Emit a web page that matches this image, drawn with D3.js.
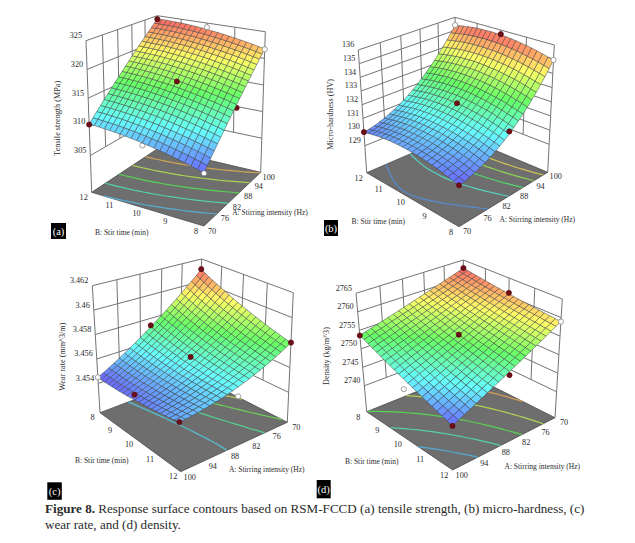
<!DOCTYPE html>
<html><head><meta charset="utf-8">
<script src="https://cdnjs.cloudflare.com/ajax/libs/d3/7.8.5/d3.min.js"></script>
<style>html,body{margin:0;padding:0;background:#fff}svg{display:block}text{font-family:"Liberation Serif",serif;fill:#2a2a2a}</style>
</head><body><svg id="fig" width="635" height="543"></svg>
<script>
const stirIntensity=[70,76,82,88,94,100];
const stirTime=[8,9,10,11,12];
// Response at each mesh node: one row per stir time (8 to 12 min), one column per intensity (70 to 100 Hz).
const tensileGrid=[
[307.38,308.15,308.92,309.69,310.45,311.20,311.95,312.69,313.42,314.15,314.88,315.59,316.30,317.01,317.71,318.40,319.09,319.77,320.44,321.11,321.78],
[307.65,308.43,309.20,309.96,310.72,311.47,312.22,312.96,313.69,314.42,315.14,315.86,316.57,317.27,317.97,318.66,319.34,320.02,320.70,321.37,322.03],
[307.94,308.71,309.48,310.24,311.00,311.75,312.49,313.23,313.96,314.69,315.41,316.13,316.83,317.54,318.23,318.92,319.61,320.29,320.96,321.63,322.29],
[308.20,308.97,309.74,310.50,311.25,312.00,312.75,313.48,314.22,314.94,315.66,316.37,317.08,317.78,318.48,319.17,319.85,320.53,321.20,321.86,322.52],
[308.44,309.21,309.98,310.74,311.49,312.24,312.98,313.72,314.45,315.17,315.89,316.60,317.31,318.01,318.70,319.39,320.07,320.75,321.42,322.08,322.74],
[308.67,309.44,310.21,310.97,311.72,312.47,313.21,313.94,314.67,315.39,316.11,316.82,317.53,318.22,318.92,319.60,320.28,320.96,321.63,322.29,322.95],
[308.90,309.66,310.43,311.19,311.94,312.68,313.42,314.16,314.88,315.60,316.32,317.03,317.73,318.43,319.12,319.81,320.49,321.16,321.83,322.49,323.15],
[309.10,309.87,310.63,311.38,312.13,312.88,313.62,314.35,315.08,315.80,316.51,317.22,317.92,318.62,319.31,319.99,320.67,321.34,322.01,322.67,323.32],
[309.29,310.06,310.82,311.57,312.32,313.06,313.80,314.53,315.26,315.98,316.69,317.40,318.10,318.79,319.48,320.17,320.84,321.51,322.18,322.84,323.49],
[309.46,310.23,310.99,311.74,312.49,313.23,313.97,314.70,315.42,316.14,316.85,317.56,318.26,318.95,319.64,320.32,320.99,321.67,322.33,322.99,323.64],
[309.63,310.39,311.15,311.90,312.65,313.39,314.12,314.85,315.57,316.29,317.00,317.71,318.40,319.10,319.78,320.46,321.14,321.81,322.47,323.13,323.78],
[309.78,310.54,311.30,312.05,312.79,313.53,314.27,315.00,315.72,316.43,317.14,317.84,318.54,319.23,319.92,320.60,321.27,321.94,322.60,323.25,323.90],
[309.91,310.67,311.43,312.18,312.92,313.66,314.39,315.12,315.84,316.55,317.26,317.96,318.66,319.35,320.03,320.71,321.38,322.05,322.71,323.36,324.01],
[310.02,310.78,311.54,312.29,313.03,313.77,314.50,315.22,315.94,316.65,317.36,318.06,318.76,319.44,320.13,320.80,321.47,322.14,322.80,323.45,324.10],
[310.14,310.89,311.65,312.40,313.14,313.87,314.60,315.33,316.04,316.75,317.46,318.16,318.85,319.54,320.22,320.90,321.57,322.23,322.89,323.54,324.19],
[310.23,310.99,311.74,312.48,313.22,313.96,314.69,315.41,316.13,316.84,317.54,318.24,318.93,319.62,320.30,320.97,321.64,322.30,322.96,323.61,324.25],
[310.30,311.06,311.81,312.55,313.29,314.02,314.75,315.47,316.19,316.90,317.60,318.30,318.99,319.67,320.35,321.03,321.69,322.35,323.01,323.66,324.30],
[310.36,311.12,311.87,312.61,313.35,314.08,314.81,315.53,316.24,316.95,317.65,318.35,319.04,319.72,320.40,321.07,321.73,322.39,323.05,323.70,324.34],
[310.42,311.17,311.92,312.66,313.40,314.13,314.85,315.57,316.28,316.99,317.69,318.38,319.07,319.75,320.43,321.10,321.77,322.43,323.08,323.73,324.37],
[310.46,311.21,311.96,312.70,313.43,314.16,314.89,315.60,316.32,317.02,317.72,318.41,319.10,319.78,320.46,321.13,321.79,322.45,323.10,323.74,324.38],
[310.48,311.23,311.97,312.71,313.45,314.17,314.90,315.61,316.32,317.03,317.73,318.42,319.10,319.79,320.46,321.13,321.79,322.44,323.09,323.73,324.38]];
const hardnessGrid=[
[129.73,129.80,129.89,130.00,130.13,130.28,130.45,130.64,130.85,131.08,131.33,131.60,131.89,132.20,132.53,132.88,133.25,133.64,134.05,134.48,134.93],
[129.83,129.90,129.99,130.10,130.23,130.39,130.56,130.75,130.96,131.19,131.44,131.71,132.00,132.31,132.64,132.99,133.36,133.75,134.16,134.59,135.04],
[129.93,130.00,130.09,130.20,130.33,130.49,130.66,130.85,131.06,131.29,131.54,131.81,132.10,132.41,132.74,133.09,133.47,133.86,134.27,134.70,135.15],
[130.02,130.09,130.18,130.29,130.42,130.58,130.75,130.94,131.15,131.38,131.63,131.90,132.20,132.51,132.84,133.19,133.56,133.95,134.36,134.80,135.25],
[130.10,130.17,130.26,130.37,130.50,130.66,130.83,131.02,131.23,131.46,131.72,131.99,132.28,132.59,132.92,133.28,133.65,134.04,134.45,134.88,135.34],
[130.16,130.24,130.33,130.44,130.57,130.73,130.90,131.09,131.30,131.54,131.79,132.06,132.35,132.66,133.00,133.35,133.72,134.12,134.53,134.96,135.41],
[130.22,130.29,130.39,130.50,130.63,130.79,130.96,131.15,131.36,131.60,131.85,132.12,132.42,132.73,133.06,133.41,133.79,134.18,134.59,135.03,135.48],
[130.27,130.34,130.43,130.55,130.68,130.84,131.01,131.20,131.42,131.65,131.90,132.18,132.47,132.78,133.12,133.47,133.84,134.24,134.65,135.09,135.54],
[130.31,130.38,130.47,130.59,130.72,130.88,131.05,131.24,131.46,131.69,131.95,132.22,132.51,132.83,133.16,133.52,133.89,134.28,134.70,135.13,135.59],
[130.33,130.41,130.50,130.62,130.75,130.91,131.08,131.27,131.49,131.72,131.98,132.25,132.55,132.86,133.20,133.55,133.92,134.32,134.73,135.17,135.62],
[130.35,130.43,130.52,130.64,130.77,130.93,131.10,131.30,131.51,131.75,132.00,132.28,132.57,132.89,133.22,133.58,133.95,134.35,134.76,135.20,135.65],
[130.36,130.43,130.53,130.64,130.78,130.94,131.11,131.31,131.52,131.76,132.01,132.29,132.58,132.90,133.23,133.59,133.97,134.36,134.78,135.21,135.67],
[130.36,130.43,130.53,130.64,130.78,130.94,131.11,131.31,131.52,131.76,132.02,132.29,132.59,132.90,133.24,133.60,133.97,134.37,134.78,135.22,135.68],
[130.34,130.42,130.52,130.63,130.77,130.93,131.10,131.30,131.51,131.75,132.01,132.29,132.58,132.90,133.23,133.59,133.97,134.36,134.78,135.22,135.67],
[130.32,130.40,130.49,130.61,130.75,130.91,131.08,131.28,131.50,131.73,131.99,132.27,132.56,132.88,133.22,133.58,133.95,134.35,134.77,135.20,135.66],
[130.29,130.37,130.46,130.58,130.72,130.88,131.05,131.25,131.47,131.71,131.96,132.24,132.54,132.86,133.19,133.55,133.93,134.33,134.74,135.18,135.64],
[130.25,130.32,130.42,130.54,130.68,130.84,131.01,131.21,131.43,131.67,131.93,132.20,132.50,132.82,133.16,133.52,133.89,134.29,134.71,135.15,135.61],
[130.19,130.27,130.37,130.49,130.63,130.79,130.96,131.16,131.38,131.62,131.88,132.16,132.45,132.77,133.11,133.47,133.85,134.25,134.67,135.10,135.56],
[130.13,130.21,130.31,130.43,130.57,130.73,130.90,131.10,131.32,131.56,131.82,132.10,132.40,132.72,133.06,133.42,133.79,134.19,134.61,135.05,135.51],
[130.06,130.14,130.24,130.36,130.50,130.66,130.83,131.03,131.25,131.49,131.75,132.03,132.33,132.65,132.99,133.35,133.73,134.13,134.55,134.99,135.45],
[129.98,130.06,130.16,130.28,130.42,130.58,130.76,130.96,131.18,131.42,131.68,131.96,132.26,132.58,132.92,133.28,133.66,134.06,134.48,134.92,135.38]];
const wearGrid=[
[3.46108,3.46065,3.46024,3.45983,3.45944,3.45905,3.45868,3.45831,3.45796,3.45761,3.45728,3.45695,3.45664,3.45633,3.45604,3.45575,3.45548,3.45521,3.45496,3.45471,3.45448],
[3.46088,3.46047,3.46006,3.45967,3.45928,3.45891,3.45854,3.45819,3.45784,3.45750,3.45718,3.45686,3.45656,3.45626,3.45598,3.45570,3.45544,3.45518,3.45494,3.45470,3.45448],
[3.46069,3.46029,3.45989,3.45951,3.45913,3.45877,3.45841,3.45806,3.45773,3.45740,3.45709,3.45678,3.45649,3.45620,3.45593,3.45566,3.45541,3.45516,3.45492,3.45470,3.45448],
[3.46051,3.46011,3.45973,3.45935,3.45899,3.45863,3.45829,3.45795,3.45762,3.45731,3.45700,3.45671,3.45642,3.45615,3.45588,3.45562,3.45538,3.45514,3.45492,3.45470,3.45450],
[3.46033,3.45994,3.45957,3.45920,3.45884,3.45850,3.45816,3.45784,3.45752,3.45721,3.45692,3.45663,3.45636,3.45609,3.45583,3.45559,3.45535,3.45513,3.45491,3.45470,3.45451],
[3.46015,3.45977,3.45941,3.45905,3.45871,3.45837,3.45804,3.45773,3.45742,3.45712,3.45684,3.45656,3.45630,3.45604,3.45579,3.45556,3.45533,3.45511,3.45491,3.45471,3.45453],
[3.45998,3.45961,3.45925,3.45891,3.45857,3.45824,3.45793,3.45762,3.45733,3.45704,3.45676,3.45650,3.45624,3.45599,3.45576,3.45553,3.45531,3.45511,3.45491,3.45472,3.45455],
[3.45981,3.45945,3.45910,3.45877,3.45844,3.45812,3.45782,3.45752,3.45723,3.45696,3.45669,3.45643,3.45619,3.45595,3.45572,3.45551,3.45530,3.45510,3.45492,3.45474,3.45457],
[3.45964,3.45930,3.45896,3.45863,3.45832,3.45801,3.45771,3.45742,3.45715,3.45688,3.45662,3.45638,3.45614,3.45591,3.45570,3.45549,3.45529,3.45510,3.45493,3.45476,3.45460],
[3.45948,3.45915,3.45882,3.45850,3.45819,3.45790,3.45761,3.45733,3.45706,3.45681,3.45656,3.45632,3.45609,3.45588,3.45567,3.45547,3.45529,3.45511,3.45494,3.45478,3.45464],
[3.45933,3.45900,3.45868,3.45837,3.45808,3.45779,3.45751,3.45724,3.45699,3.45674,3.45650,3.45627,3.45606,3.45585,3.45565,3.45546,3.45529,3.45512,3.45496,3.45481,3.45468],
[3.45917,3.45885,3.45855,3.45825,3.45796,3.45768,3.45742,3.45716,3.45691,3.45667,3.45645,3.45623,3.45602,3.45582,3.45563,3.45546,3.45529,3.45513,3.45498,3.45485,3.45472],
[3.45902,3.45872,3.45842,3.45813,3.45785,3.45758,3.45733,3.45708,3.45684,3.45661,3.45639,3.45619,3.45599,3.45580,3.45562,3.45545,3.45530,3.45515,3.45501,3.45488,3.45476],
[3.45888,3.45858,3.45829,3.45801,3.45775,3.45749,3.45724,3.45700,3.45677,3.45655,3.45635,3.45615,3.45596,3.45578,3.45561,3.45545,3.45531,3.45517,3.45504,3.45492,3.45481],
[3.45874,3.45845,3.45817,3.45790,3.45764,3.45739,3.45716,3.45693,3.45671,3.45650,3.45630,3.45611,3.45594,3.45577,3.45561,3.45546,3.45532,3.45519,3.45507,3.45497,3.45487],
[3.45860,3.45832,3.45805,3.45779,3.45755,3.45731,3.45708,3.45686,3.45665,3.45645,3.45626,3.45608,3.45592,3.45576,3.45561,3.45547,3.45534,3.45522,3.45511,3.45501,3.45493],
[3.45847,3.45820,3.45794,3.45769,3.45745,3.45722,3.45700,3.45679,3.45660,3.45641,3.45623,3.45606,3.45590,3.45575,3.45561,3.45548,3.45536,3.45525,3.45516,3.45507,3.45499],
[3.45834,3.45808,3.45783,3.45759,3.45736,3.45714,3.45693,3.45673,3.45654,3.45637,3.45620,3.45604,3.45589,3.45575,3.45562,3.45550,3.45539,3.45529,3.45520,3.45512,3.45505],
[3.45821,3.45796,3.45772,3.45749,3.45728,3.45707,3.45687,3.45668,3.45650,3.45633,3.45617,3.45602,3.45588,3.45575,3.45563,3.45552,3.45542,3.45533,3.45525,3.45518,3.45512],
[3.45809,3.45785,3.45762,3.45740,3.45719,3.45699,3.45680,3.45662,3.45645,3.45630,3.45615,3.45601,3.45588,3.45576,3.45565,3.45555,3.45546,3.45538,3.45531,3.45525,3.45520],
[3.45798,3.45775,3.45753,3.45732,3.45712,3.45693,3.45675,3.45658,3.45642,3.45627,3.45613,3.45600,3.45588,3.45577,3.45567,3.45558,3.45550,3.45543,3.45537,3.45532,3.45528]];
const densityGrid=[
[2762.73,2762.25,2761.78,2761.31,2760.84,2760.38,2759.91,2759.45,2758.99,2758.53,2758.08,2757.62,2757.17,2756.72,2756.27,2755.83,2755.38,2754.94,2754.50,2754.06,2753.63],
[2762.50,2762.01,2761.53,2761.04,2760.56,2760.08,2759.60,2759.13,2758.65,2758.18,2757.71,2757.24,2756.78,2756.31,2755.85,2755.39,2754.94,2754.48,2754.03,2753.58,2753.13],
[2762.27,2761.77,2761.27,2760.78,2760.28,2759.79,2759.30,2758.81,2758.32,2757.83,2757.35,2756.87,2756.39,2755.91,2755.44,2754.96,2754.49,2754.02,2753.56,2753.09,2752.63],
[2762.05,2761.54,2761.02,2760.51,2760.00,2759.50,2758.99,2758.49,2757.99,2757.49,2756.99,2756.50,2756.00,2755.51,2755.02,2754.53,2754.05,2753.56,2753.08,2752.60,2752.13],
[2761.84,2761.31,2760.78,2760.26,2759.73,2759.21,2758.69,2758.18,2757.66,2757.15,2756.64,2756.13,2755.62,2755.12,2754.62,2754.12,2753.62,2753.12,2752.63,2752.13,2751.64],
[2761.63,2761.08,2760.54,2760.00,2759.47,2758.93,2758.40,2757.87,2757.34,2756.81,2756.29,2755.77,2755.25,2754.73,2754.21,2753.70,2753.19,2752.68,2752.17,2751.66,2751.16],
[2761.42,2760.86,2760.31,2759.76,2759.21,2758.66,2758.11,2757.57,2757.02,2756.48,2755.94,2755.41,2754.87,2754.34,2753.81,2753.28,2752.76,2752.23,2751.71,2751.19,2750.67],
[2761.21,2760.64,2760.07,2759.51,2758.94,2758.38,2757.82,2757.26,2756.71,2756.15,2755.60,2755.05,2754.50,2753.95,2753.41,2752.87,2752.33,2751.79,2751.25,2750.72,2750.19],
[2761.01,2760.43,2759.85,2759.27,2758.69,2758.11,2757.54,2756.97,2756.40,2755.83,2755.26,2754.70,2754.14,2753.58,2753.02,2752.46,2751.91,2751.36,2750.81,2750.26,2749.71],
[2760.82,2760.22,2759.62,2759.03,2758.44,2757.85,2757.26,2756.68,2756.09,2755.51,2754.93,2754.35,2753.78,2753.20,2752.63,2752.06,2751.49,2750.93,2750.36,2749.80,2749.24],
[2760.63,2760.01,2759.40,2758.80,2758.19,2757.59,2756.99,2756.39,2755.79,2755.20,2754.60,2754.01,2753.42,2752.83,2752.25,2751.66,2751.08,2750.50,2749.92,2749.35,2748.78],
[2760.44,2759.81,2759.19,2758.57,2757.95,2757.33,2756.72,2756.10,2755.49,2754.88,2754.27,2753.67,2753.06,2752.46,2751.86,2751.27,2750.67,2750.08,2749.49,2748.90,2748.31],
[2760.25,2759.61,2758.98,2758.34,2757.71,2757.08,2756.45,2755.82,2755.20,2754.57,2753.95,2753.33,2752.72,2752.10,2751.49,2750.88,2750.27,2749.66,2749.06,2748.45,2747.85],
[2760.07,2759.42,2758.77,2758.12,2757.47,2756.83,2756.19,2755.55,2754.91,2754.27,2753.64,2753.00,2752.37,2751.74,2751.12,2750.49,2749.87,2749.25,2748.63,2748.01,2747.40],
[2759.90,2759.23,2758.57,2757.90,2757.24,2756.58,2755.93,2755.27,2754.62,2753.97,2753.32,2752.67,2752.03,2751.39,2750.75,2750.11,2749.47,2748.84,2748.21,2747.58,2746.95],
[2759.73,2759.05,2758.37,2757.69,2757.02,2756.35,2755.68,2755.01,2754.34,2753.68,2753.01,2752.35,2751.70,2751.04,2750.39,2749.73,2749.08,2748.44,2747.79,2747.15,2746.50],
[2759.56,2758.86,2758.17,2757.48,2756.79,2756.11,2755.42,2754.74,2754.06,2753.38,2752.71,2752.03,2751.36,2750.69,2750.02,2749.36,2748.69,2748.03,2747.37,2746.71,2746.06],
[2759.39,2758.69,2757.98,2757.28,2756.58,2755.88,2755.18,2754.49,2753.79,2753.10,2752.41,2751.72,2751.04,2750.35,2749.67,2748.99,2748.31,2747.64,2746.96,2746.29,2745.62],
[2759.23,2758.51,2757.79,2757.08,2756.36,2755.65,2754.94,2754.23,2753.52,2752.81,2752.11,2751.41,2750.71,2750.01,2749.32,2748.62,2747.93,2747.24,2746.56,2745.87,2745.19],
[2759.08,2758.34,2757.61,2756.88,2756.15,2755.42,2754.70,2753.97,2753.25,2752.53,2751.81,2751.10,2750.38,2749.67,2748.96,2748.26,2747.55,2746.85,2746.14,2745.44,2744.75],
[2758.93,2758.18,2757.43,2756.68,2755.94,2755.20,2754.46,2753.72,2752.99,2752.26,2751.53,2750.80,2750.07,2749.35,2748.62,2747.90,2747.18,2746.47,2745.75,2745.04,2744.33]];
const tensileTicks=[305,310,315,320,325], hardnessTicks=[129,130,131,132,133,134,135,136], wearTicks=[3.454,3.456,3.458,3.46,3.462], densityTicks=[2740,2745,2750,2755,2760,2765];
const tensileLevels=[310.4,313.2,316,318.8,321.6], hardnessLevels=[130.4,131.4,132.4,133.4,134.4], wearLevels=[3.4559,3.457,3.4581,3.4592,3.4603], densityLevels=[2747.5,2750.6,2753.7,2757,2760];
// design points: intensity, time, response, filled
const tensilePoints=[[100,12,324.3,1],[100,8,321.7,0],[85,10,316.8,1],[70,12,310.4,1],[70,8,307.3,0],[85,8,314.3,1],[70,10,309.2,0],[100,10,324.2,0]];
const hardnessPoints=[[100,12,135.4,0],[100,10,135.7,1],[100,8,134.95,0],[85,10,132,1],[70,12,130,1],[70,8,129.75,1],[85,8,131.5,1]];
const wearPoints=[[100,8,3.4545,0],[70,8,3.4611,1],[70,12,3.458,1],[85,10,3.4565,1],[100,12,3.4553,1],[85,8,3.4574,1],[100,10,3.4551,1],[85,12,3.4554,0]];
const densityPoints=[[70,8,2762.7,1],[70,10,2760.9,1],[70,12,2758.9,0],[85,10,2754.6,1],[100,8,2753.6,1],[100,12,2744.3,1],[85,12,2750.6,1],[100,10,2746,0]];

const panels=[
{grid:tensileGrid,ticks:tensileTicks,levels:tensileLevels,points:tensilePoints,zDomain:[298.6,325],tag:"(a)",yLabel:"Tensile strength (MPa)",
 p00:[204,226],p10:[260.7,172.3],p11:[158.3,148.3],p01:[91.7,192.3],t00:[204,66],t10:[265.3,31.7],t11:[157.3,15.7],t01:[86,40.7],
 left:"p01",back:"p11",right:"p10",front:"p00",
 yAt:[57.3,118.3],bAt:[121.7,231.7],aAt:[270,212],box:[51,223,15,16],bOff:[-8,5],aOff:[8,5]},
{grid:hardnessGrid,ticks:hardnessTicks,levels:hardnessLevels,points:hardnessPoints,zDomain:[127.03,136],tag:"(b)",yLabel:"Micro-hardness (HV)",
 p00:[459,226.7],p10:[547.7,172.3],p11:[456.3,134],p01:[366.7,172.7],t00:[459,90],t10:[554.3,45],t11:[455,17.3],t01:[358.3,50],
 left:"p01",back:"p11",right:"p10",front:"p00",
 yAt:[330,114.3],bAt:[378.3,220.7],aAt:[537.3,219],box:[324,220,14,16],bOff:[-8,5.5],aOff:[8,4.5]},
{grid:wearGrid,ticks:wearTicks,levels:wearLevels,points:wearPoints,zDomain:[3.4516,3.462],tag:"(c)",yLabel:"Wear rate (mm^3/m)",
 p00:[196.7,376],p10:[100,412.7],p11:[180.7,471.7],p01:[287.3,422.3],t00:[201.7,259],t10:[92.3,285.7],t11:[177,332],t01:[293.3,292.7],
 left:"p10",back:"p00",right:"p01",front:"p11",
 yAt:[61.7,356.7],bAt:[101.7,460],aAt:[266.7,469],box:[47.3,482.3,14.5,17.5],bOff:[-7.5,5],aOff:[9,5.5]},
{grid:densityGrid,ticks:densityTicks,levels:densityLevels,points:densityPoints,zDomain:[2733,2765],tag:"(d)",yLabel:"Density (kg/m^3)",
 p00:[464.7,372.3],p10:[366.7,411.7],p11:[452.7,470],p01:[555,417.7],t00:[463.3,260],t10:[356,293.3],t11:[452,345],t01:[562.3,299],
 left:"p10",back:"p00",right:"p01",front:"p11",
 yAt:[326,356],bAt:[371.7,460.7],aAt:[542.3,465.7],box:[316.7,480,14,18.3],bOff:[-8.5,5.5],aOff:[9,5]}
];

// Maps the unit square onto a quadrilateral so the axes keep their foreshortening.
function squareToQuad(p0,p1,p2,p3){
  const dx1=p1[0]-p2[0],dx2=p3[0]-p2[0],sx=p0[0]-p1[0]+p2[0]-p3[0];
  const dy1=p1[1]-p2[1],dy2=p3[1]-p2[1],sy=p0[1]-p1[1]+p2[1]-p3[1];
  const det=dx1*dy2-dx2*dy1;
  const g=(sx*dy2-dx2*sy)/det,h=(dx1*sy-sx*dy1)/det;
  const a=p1[0]-p0[0]+g*p1[0],b=p3[0]-p0[0]+h*p3[0],c=p0[0];
  const d=p1[1]-p0[1]+g*p1[1],e=p3[1]-p0[1]+h*p3[1],f=p0[1];
  return (u,v)=>{const q=g*u+h*v+1;return [(a*u+b*v+c)/q,(d*u+e*v+f)/q];};
}
const svg=d3.select("#fig");
const line=d3.line();
const aScale=d3.scaleLinear().domain([70,100]).range([0,1]);
const bScale=d3.scaleLinear().domain([8,12]).range([0,1]);
const rampStops=["#6a64ff","#66ffff","#66ff66","#ffff66","#ff6666"];

panels.forEach(P=>{
  const g=svg.append("g");
  const floorMap=squareToQuad(P.p00,P.p10,P.p11,P.p01);
  const topMap=squareToQuad(P.t00,P.t10,P.t11,P.t01);
  const zScale=d3.scaleLinear().domain(P.zDomain).range([0,1]);
  const project=(A,B,z)=>{
    const u=aScale(A),v=bScale(B),w=zScale(z);
    const f=floorMap(u,v),t=topMap(u,v);
    return [f[0]+(t[0]-f[0])*w,f[1]+(t[1]-f[1])*w];
  };
  const flat=P.grid.flat();
  const [zMin,zMax]=d3.extent(flat);
  const colour=d3.scaleLinear().domain(d3.range(5).map(i=>zMin+(zMax-zMin)*i/4)).range(rampStops).interpolate(d3.interpolateRgb);
  const lineColour=z=>d3.color(colour(z)).darker(.55).formatHex();

  // back walls with their grid
  const cornerData={p00:[70,8],p10:[100,8],p11:[100,12],p01:[70,12]};
  const L=cornerData[P.left],K=cornerData[P.back],R=cornerData[P.right],F=cornerData[P.front];
  const floorZ=P.zDomain[0],topZ=P.zDomain[1],lowZ=P.ticks[0];
  const wall=g.append("g").attr("fill","none").attr("stroke","#747474").attr("stroke-width",1);
  P.ticks.forEach(z=>wall.append("path").attr("d",line([project(L[0],L[1],z),project(K[0],K[1],z),project(R[0],R[1],z)])));
  [L,K,R].forEach(c=>wall.append("path").attr("d",line([project(c[0],c[1],floorZ),project(c[0],c[1],topZ)])));
  stirIntensity.slice(1,-1).forEach(A=>{
    const B=(L[0]===K[0])?R[1]:L[1];
    wall.append("path").attr("d",line([project(A,B,lowZ),project(A,B,topZ)]));
  });
  stirTime.slice(1,-1).forEach(B=>{
    const A=(L[1]===K[1])?R[0]:L[0];
    wall.append("path").attr("d",line([project(A,B,lowZ),project(A,B,topZ)]));
  });

  // floor with contour lines of the response
  g.append("path").attr("d",line([L,F,R,K].map(c=>project(c[0],c[1],floorZ)))+"Z").attr("fill","#6e6e6e").attr("stroke","#4a4a4a").attr("stroke-width",.8);
  const n=P.grid.length;
  const contours=d3.contours().size([n,n]).thresholds(P.levels)(flat);
  const cA=d3.scaleLinear().domain([.5,n-.5]).range([70,100]).clamp(true);
  const cB=d3.scaleLinear().domain([.5,n-.5]).range([8,12]).clamp(true);
  const onRim=q=>q[0]<=.5||q[0]>=n-.5||q[1]<=.5||q[1]>=n-.5;
  contours.forEach(ct=>{
    const segs=[];
    ct.coordinates.forEach(poly=>poly.forEach(ring=>{
      let run=[];
      ring.forEach((q,i)=>{
        if(i&&onRim(q)&&onRim(ring[i-1])){ if(run.length>1)segs.push(run); run=[]; }
        run.push(q);
      });
      if(run.length>1)segs.push(run);
    }));
    segs.forEach(s=>g.append("path").attr("fill","none").attr("stroke",lineColour(ct.value)).attr("stroke-width",1.2)
      .attr("d",line(s.map(q=>project(cA(q[0]),cB(q[1]),floorZ)))));
  });

  // design points lying under the surface are painted first
  const dot=(sel,pts)=>sel.selectAll(null).data(pts).join("circle")
    .attr("cx",d=>project(d[0],d[1],d[2])[0]).attr("cy",d=>project(d[0],d[1],d[2])[1]).attr("r",2.6)
    .attr("fill",d=>d[3]?"#6e0f18":"#fff").attr("stroke",d=>d[3]?"#5a0a12":"#777").attr("stroke-width",.7);
  const onTop=d=>{
    const i=Math.round(aScale(d[0])*(n-1)),j=Math.round(bScale(d[1])*(n-1));
    return d[2]>=P.grid[j][i]-(zMax-zMin)*.02;
  };
  dot(g.append("g"),P.points.filter(d=>!onTop(d)));

  // response surface mesh
  const cells=[];
  for(let j=0;j<n-1;j++)for(let i=0;i<n-1;i++)cells.push([i,j]);
  const aStep=d3.scaleLinear().domain([0,n-1]).range([70,100]);
  const bStep=d3.scaleLinear().domain([0,n-1]).range([8,12]);
  g.append("g").selectAll("path").data(cells).join("path")
    .attr("d",([i,j])=>line([[i,j],[i+1,j],[i+1,j+1],[i,j+1]].map(([a,b])=>project(aStep(a),bStep(b),P.grid[b][a])))+"Z")
    .attr("fill",([i,j])=>colour(d3.mean([P.grid[j][i],P.grid[j][i+1],P.grid[j+1][i],P.grid[j+1][i+1]])))
    .attr("stroke","#3f4242").attr("stroke-width",.5).attr("stroke-linejoin","round");
  dot(g.append("g"),P.points.filter(onTop));

  // axis text
  const tl=g.append("g").attr("font-size",8.2);
  P.ticks.forEach(z=>{
    const q=project(L[0],L[1],z);
    tl.append("text").attr("x",q[0]-4).attr("y",q[1]-2.6).attr("text-anchor","end").text(z);
  });
  stirIntensity.forEach(A=>{
    const q=project(A,F[1],floorZ);
    tl.append("text").attr("x",q[0]+P.aOff[0]).attr("y",q[1]+P.aOff[1]+2.5).attr("text-anchor","middle").text(A);
  });
  stirTime.forEach(B=>{
    const q=project(F[0],B,floorZ);
    tl.append("text").attr("x",q[0]+P.bOff[0]).attr("y",q[1]+P.bOff[1]+2.5).attr("text-anchor","middle").text(B);
  });
  tl.append("text").attr("transform",`translate(${P.yAt[0]},${P.yAt[1]}) rotate(-90)`).attr("text-anchor","middle").attr("dy",3).text(P.yLabel);
  tl.append("text").attr("x",P.bAt[0]).attr("y",P.bAt[1]+3).attr("text-anchor","middle").attr("font-size",7.5).text("B: Stir time (min)");
  tl.append("text").attr("x",P.aAt[0]).attr("y",P.aAt[1]+3).attr("text-anchor","middle").attr("font-size",7.5).text("A: Stirring intensity (Hz)");
  g.append("rect").attr("x",P.box[0]).attr("y",P.box[1]).attr("width",P.box[2]).attr("height",P.box[3]).attr("fill","#000");
  g.append("text").attr("x",P.box[0]+P.box[2]/2).attr("y",P.box[1]+P.box[3]/2+3.5).attr("text-anchor","middle").attr("font-size",10.5).style("fill","#fff").text(P.tag);
});

const cap=svg.append("g").attr("font-size",13.1);
const l1=cap.append("text").attr("x",45).attr("y",513);
l1.append("tspan").attr("font-weight","bold").text("Figure 8.");
l1.append("tspan").text(" Response surface contours based on RSM-FCCD (a) tensile strength, (b) micro-hardness, (c)");
cap.append("text").attr("x",45).attr("y",529).text("wear rate, and (d) density.");
</script></body></html>
